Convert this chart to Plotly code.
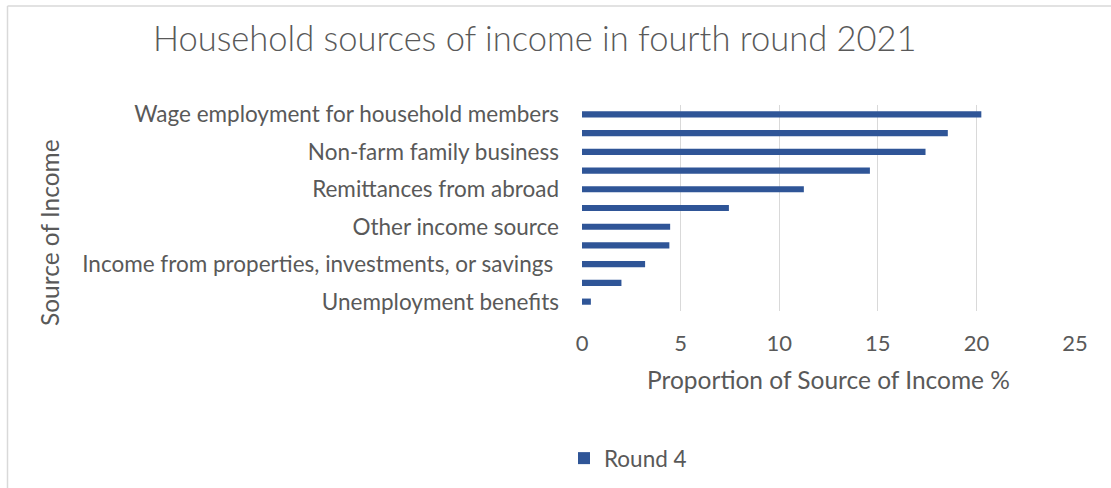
import plotly.graph_objects as go

categories = [
    "Wage employment for household members",
    "Family farming, livestock or fishing",
    "Non-farm family business",
    "Assistance from family within the country",
    "Remittances from abroad",
    "Pension",
    "Other income source",
    "Assistance from government",
    "Income from properties, investments, or savings ",
    "Assistance from NGOs or charity",
    "Unemployment benefits",
]
round4 = [20.25, 18.55, 17.42, 14.6, 11.25, 7.45, 4.47, 4.43, 3.2, 2.0, 0.45]
shown_labels = categories[::2]
x_ticks = [0, 5, 10, 15, 20, 25]

FONT = "Lato"
GRAY = "#595959"

L, R, T, B = 582, 36, 105, 177
W, H = 1111, 488
pw = W - L - R
ph = H - T - B

def px_x(p):
    return (p - L) / pw

def px_y(p):
    return (H - B - p) / ph

fig = go.Figure()
fig.add_trace(go.Bar(
    y=categories, x=round4, orientation="h", name="Round 4",
    marker=dict(color="#2F5597", line=dict(width=0)), width=0.33,
))

fig.update_layout(
    width=W, height=H,
    margin=dict(l=L, r=R, t=T, b=B, autoexpand=False),
    paper_bgcolor="white", plot_bgcolor="white",
    font=dict(family=FONT, color=GRAY, size=22),
    xaxis=dict(range=[0, 25], tickvals=x_ticks, showgrid=True,
               gridcolor="#D9D9D9", gridwidth=1.3, zeroline=False,
               showline=False, ticks="", ticklabelstandoff=17,
               tickfont=dict(size=22, color=GRAY, family=FONT),
               title=dict(text="Proportion of Source of Income %",
                          font=dict(size=24.5, color=GRAY, family=FONT),
                          standoff=16)),
    yaxis=dict(autorange="reversed", tickmode="array", tickvals=shown_labels,
               ticktext=shown_labels, showgrid=False, showline=False,
               ticks="", ticklabelstandoff=22,
               tickfont=dict(size=22.5, color=GRAY, family=FONT)),
    showlegend=True,
    legend=dict(orientation="h", x=px_x(564), xanchor="left",
                y=px_y(437), yanchor="top",
                font=dict(size=22.5, color=GRAY, family=FONT)),
    bargap=0.67,
)

fig.add_annotation(text="Household sources of income in fourth round 2021",
                   x=px_x(535), y=px_y(38), xref="paper", yref="paper",
                   xanchor="center", yanchor="middle", showarrow=False,
                   font=dict(size=34.5, color=GRAY, family=FONT, weight=300))

fig.add_annotation(text="Source of Income", textangle=-90,
                   x=px_x(49), y=px_y(233), xref="paper", yref="paper",
                   xanchor="center", yanchor="middle",
                   showarrow=False, font=dict(size=24.5, color=GRAY, family=FONT))

# outer chart border (left and top edges visible)
fig.add_shape(type="line", xref="paper", yref="paper",
              x0=px_x(7.5), x1=px_x(1115), y0=px_y(6), y1=px_y(6),
              line=dict(color="#D9D9D9", width=1.5))
fig.add_shape(type="line", xref="paper", yref="paper",
              x0=px_x(7.5), x1=px_x(7.5), y0=px_y(6), y1=px_y(495),
              line=dict(color="#D9D9D9", width=1.5))

fig.write_html("out.html")
